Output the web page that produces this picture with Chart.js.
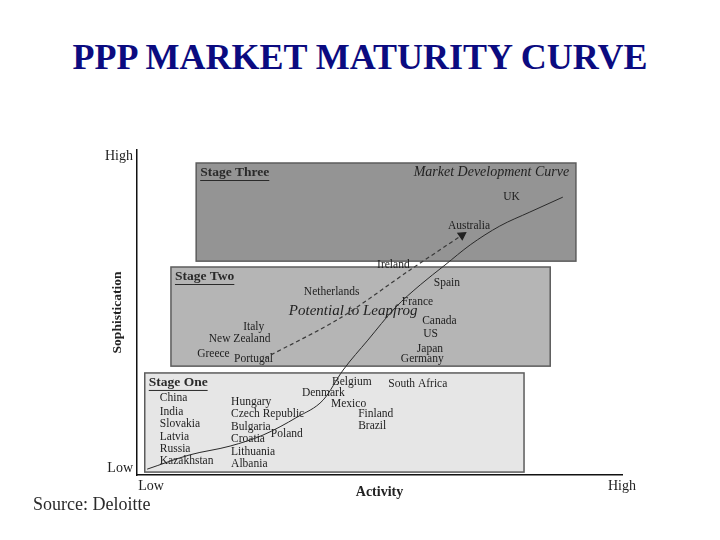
<!DOCTYPE html>
<html>
<head>
<meta charset="utf-8">
<script src="https://cdn.jsdelivr.net/npm/chart.js@4.4.1/dist/chart.umd.min.js"></script>
<style>
  body { margin: 0; background: #fff; }
  #page { position: relative; width: 720px; height: 540px; overflow: hidden; }
  #title { position: absolute; left: 0; top: 36px; width: 720px; text-align: center;
    font: bold 36px "Liberation Serif", serif; color: #0b0b80; }
  #source { position: absolute; left: 33px; top: 494px; font: 18px "Liberation Serif", serif; color: #2a2a2a; }
  #wrap { position: absolute; left: 30px; top: 140px; width: 650px; height: 380px; }
</style>
</head>
<body>
<div id="page">
  <div id="title">PPP MARKET MATURITY CURVE</div>
  <div id="wrap"><canvas id="c" width="650" height="380"></canvas></div>
  <div id="source">Source: Deloitte</div>
</div>
<script>
// axes run 0..100 (activity / sophistication)
const xTickValues = [2.9, 100];
const xTickLabels = ['Low', 'High'];
const yTickValues = [2.2, 98];
const yTickLabels = ['Low', 'High'];

const stageNames = ['Stage One', 'Stage Two', 'Stage Three'];
const stageXFrom = [1.6, 7.0, 12.2];
const stageXTo = [79.8, 85.2, 90.5];
const stageYFrom = [0.9, 33.5, 65.8];
const stageYTo = [31.4, 64.0, 96.0];

// market development curve
const curveX = [2.1, 10.9, 19.2, 26.0, 33.0, 38.4, 42.5, 47.6, 53.2, 58.4, 63.5, 68.7, 74.8, 81.0, 87.8];
const curveY = [1.8, 6.2, 8.9, 12.3, 17.8, 23.1, 32.3, 41.5, 51.4, 58.5, 64.6, 70.8, 76.6, 80.9, 85.5];

// potential to leapfrog (dashed arrow)
const leapX = [26.4, 41.9, 56.3, 67.0];
const leapY = [36.0, 48.3, 63.1, 73.8];

const countryNames = ['China', 'India', 'Slovakia', 'Latvia', 'Russia', 'Kazakhstan',
  'Hungary', 'Czech Republic', 'Bulgaria', 'Croatia', 'Lithuania', 'Albania', 'Poland',
  'Denmark', 'Belgium', 'Mexico', 'South Africa', 'Finland', 'Brazil',
  'Netherlands', 'Italy', 'New Zealand', 'Greece', 'Portugal', 'Ireland',
  'Spain', 'France', 'Canada', 'US', 'Japan', 'Germany', 'UK', 'Australia'];
const countryX = [4.7, 4.7, 4.7, 4.7, 4.7, 4.7,
  19.4, 19.4, 19.4, 19.4, 19.4, 19.4, 27.6,
  34.0, 40.2, 40.0, 51.8, 45.6, 45.6,
  34.4, 21.9, 14.8, 12.4, 20.0, 49.5,
  61.2, 54.6, 58.8, 59.0, 57.7, 54.4, 75.5, 64.1];
const countryY = [23.7, 19.4, 15.7, 11.7, 8.0, 4.3,
  22.5, 18.8, 14.8, 11.1, 7.1, 3.4, 12.6,
  25.2, 28.6, 21.8, 28.0, 18.8, 15.1,
  56.3, 45.5, 41.8, 37.2, 35.7, 64.6,
  59.1, 53.2, 47.4, 43.4, 38.8, 35.7, 85.5, 76.6];

const noteText = ['Market Development Curve', 'Potential to Leapfrog'];
const noteX = [89.1, 31.3];
const noteY = [93.2, 50.5];

const serif = '"Liberation Serif", "Times New Roman", serif';
const stageFill = ['#e6e6e6', '#b5b5b5', '#949494'];

const stagePlugin = {
  id: 'stages',
  beforeDatasetsDraw(chart) {
    const { ctx, scales: { x, y } } = chart;
    ctx.save();
    ctx.textBaseline = 'middle';
    for (let i = 0; i < stageNames.length; i++) {
      const l = x.getPixelForValue(stageXFrom[i]);
      const r = x.getPixelForValue(stageXTo[i]);
      const t = y.getPixelForValue(stageYTo[i]);
      const b = y.getPixelForValue(stageYFrom[i]);
      ctx.fillStyle = stageFill[i];
      ctx.fillRect(l, t, r - l, b - t);
      ctx.strokeStyle = '#5c5c5c';
      ctx.lineWidth = 1.5;
      ctx.strokeRect(l, t, r - l, b - t);
      ctx.font = 'bold 13.5px ' + serif;
      ctx.fillStyle = '#2a2a2a';
      ctx.textAlign = 'left';
      ctx.fillText(stageNames[i], l + 4, t + 10);
      const w = ctx.measureText(stageNames[i]).width;
      ctx.fillRect(l + 4, t + 17, w, 1);
    }
    ctx.font = 'italic 14px ' + serif;
    ctx.fillStyle = '#222';
    ctx.textAlign = 'right';
    ctx.fillText(noteText[0], x.getPixelForValue(noteX[0]), y.getPixelForValue(noteY[0]));
    ctx.font = 'italic 15px ' + serif;
    ctx.textAlign = 'left';
    ctx.fillText(noteText[1], x.getPixelForValue(noteX[1]), y.getPixelForValue(noteY[1]));

    ctx.font = '11.5px ' + serif;
    ctx.fillStyle = '#1e1e1e';
    for (let i = 0; i < countryNames.length; i++) {
      ctx.fillText(countryNames[i], x.getPixelForValue(countryX[i]), y.getPixelForValue(countryY[i]));
    }
    ctx.restore();
  }
};

new Chart(document.getElementById('c'), {
  type: 'scatter',
  data: {
    datasets: [{
      data: curveX.map((v, i) => ({ x: v, y: curveY[i] })),
      showLine: true,
      borderColor: '#2a2a2a',
      borderWidth: 1,
      pointRadius: 0,
      cubicInterpolationMode: 'monotone'
    }, {
      data: leapX.map((v, i) => ({ x: v, y: leapY[i] })),
      showLine: true,
      borderColor: '#3a3a3a',
      borderWidth: 1.2,
      borderDash: [4, 3],
      tension: 0.3,
      pointStyle: 'triangle',
      pointRadius: [0, 0, 0, 4.5],
      pointRotation: [0, 0, 0, 56],
      pointBackgroundColor: '#222',
      pointBorderColor: '#222'
    }]
  },
  options: {
    responsive: false,
    animation: false,
    events: [],
    layout: { padding: { left: 75, top: 10, right: 58, bottom: 15 } },
    plugins: { legend: { display: false }, tooltip: { enabled: false } },
    scales: {
      x: {
        type: 'linear', min: 0, max: 100,
        grid: { display: false, drawTicks: false },
        border: { display: true, color: '#111', width: 1.5 },
        afterBuildTicks: s => { s.ticks = xTickValues.map(v => ({ value: v })); },
        afterFit: s => { s.height = 30; s.paddingLeft = 0; s.paddingRight = 0; },
        ticks: {
          autoSkip: false, maxRotation: 0, padding: 3,
          font: { family: serif, size: 14 }, color: '#222',
          callback: (v, i) => xTickLabels[i]
        },
        title: {
          display: true, text: 'Activity', color: '#222',
          font: { family: serif, size: 14, weight: 'bold' },
          padding: { top: 0, bottom: 4 }
        }
      },
      y: {
        type: 'linear', min: 0, max: 100,
        grid: { display: false, drawTicks: false },
        border: { display: true, color: '#111', width: 1.5 },
        afterBuildTicks: s => { s.ticks = yTickValues.map(v => ({ value: v })); },
        afterFit: s => { s.width = 32; s.paddingTop = 0; s.paddingBottom = 0; },
        ticks: {
          autoSkip: false, padding: 4,
          font: { family: serif, size: 14 }, color: '#222',
          callback: (v, i) => yTickLabels[i]
        },
        title: {
          display: true, text: 'Sophistication', color: '#222',
          font: { family: serif, size: 13.5, weight: 'bold' },
          padding: { top: 4, bottom: 0 }
        }
      }
    }
  },
  plugins: [stagePlugin]
});
</script>
</body>
</html>
